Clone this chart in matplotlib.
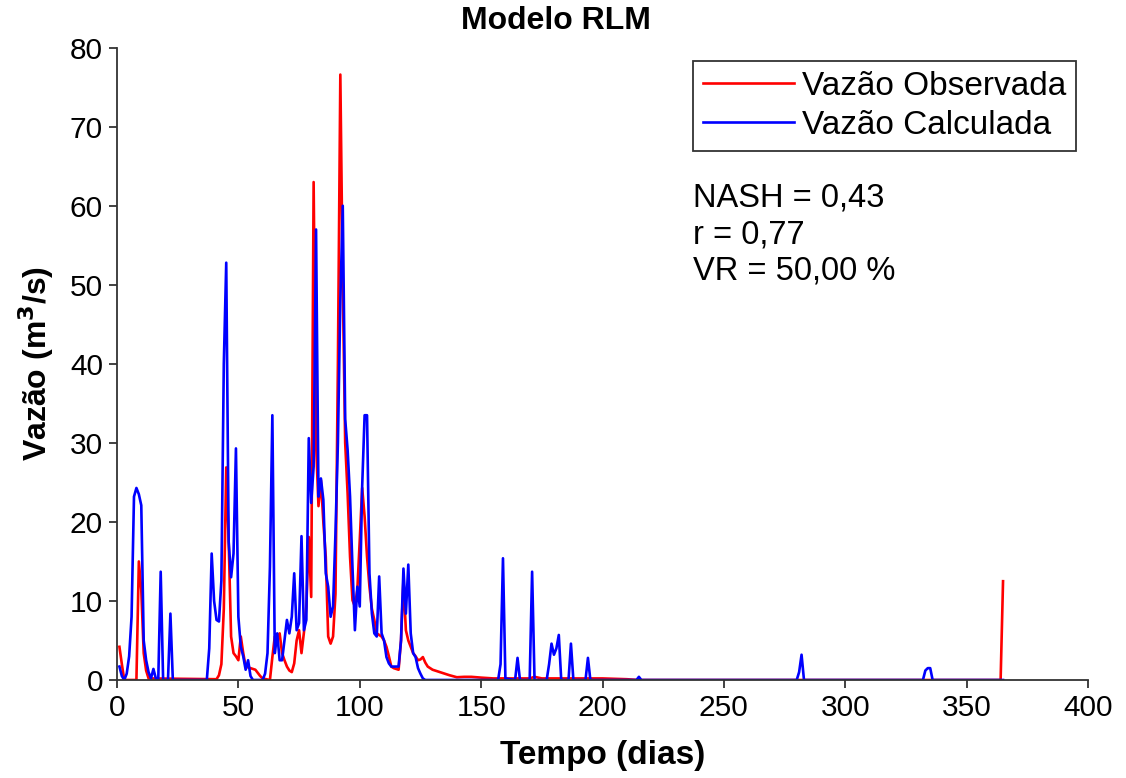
import matplotlib
matplotlib.use("Agg")
import matplotlib.pyplot as plt

plt.rcParams['font.family'] = ['Liberation Sans', 'DejaVu Sans']

# Observed discharge (Vazão Observada): day, value
obs_days = [1, 2, 3, 8, 9, 10, 11, 12, 13, 41, 42, 43, 44, 45, 46, 47, 48, 49, 50,
            51, 52, 53, 55, 57, 59, 60, 63, 64, 65, 66, 67, 68, 69, 70, 71, 72, 73,
            74, 75, 76, 77, 78, 79, 80, 81, 82, 83, 84, 85, 86, 87, 88, 89, 90, 91,
            92, 93, 94, 95, 96, 97, 98, 99, 100, 101, 102, 103, 104, 105, 106, 107,
            108, 109, 110, 111, 112, 113, 114, 115, 116, 117, 118, 119, 120, 121,
            122, 123, 124, 125, 126, 127, 128, 130, 132, 134, 137, 140, 143, 146,
            150, 155, 170, 172, 175, 200, 210, 215, 364, 365]
obs_vals = [4.2, 2.0, 0.0, 0.0, 15.0, 11.4, 3.4, 1.2, 0.2, 0.1, 0.6, 2.0, 9.0, 26.9,
            17.6, 5.5, 3.4, 3.0, 2.5, 5.5, 3.4, 1.7, 1.5, 1.3, 0.5, 0.2, 0.0, 2.9,
            5.5, 5.4, 5.9, 3.4, 2.5, 1.7, 1.2, 1.0, 2.1, 5.0, 6.3, 3.4, 6.0, 9.3,
            18.1, 10.5, 63.0, 30.0, 22.0, 25.3, 20.0, 15.6, 5.5, 4.6, 5.5, 10.9,
            40.0, 76.6, 50.0, 30.0, 23.6, 15.6, 10.1, 9.3, 11.4, 17.7, 24.3, 20.7,
            15.6, 11.8, 9.0, 7.6, 5.9, 5.7, 5.5, 5.0, 4.2, 3.0, 1.7, 1.5, 1.4, 1.3,
            5.0, 12.7, 6.3, 5.0, 4.2, 3.4, 3.0, 2.5, 2.6, 2.9, 2.2, 1.7, 1.3, 1.1,
            0.9, 0.6, 0.35, 0.4, 0.4, 0.3, 0.2, 0.2, 0.4, 0.2, 0.2, 0.1, 0.0, 0.0,
            12.5]

# Calculated discharge (Vazão Calculada): day, value
calc_days = [1, 2, 3, 4, 5, 6, 7, 8, 9, 10, 11, 12, 13, 14, 15, 16, 17, 18, 19,
             21, 22, 23, 37, 38, 39, 40, 41, 42, 43, 44, 45, 46, 47, 48, 49, 50,
             51, 52, 53, 54, 55, 56, 60, 61, 62, 63, 64, 65, 66, 67, 68, 69, 70,
             71, 72, 73, 74, 75, 76, 77, 78, 79, 80, 81, 82, 83, 84, 85, 86, 87,
             88, 89, 90, 91, 92, 93, 94, 95, 96, 97, 98, 99, 100, 101, 102, 103,
             104, 105, 106, 107, 108, 109, 110, 111, 112, 113, 114, 115, 116, 117,
             118, 119, 120, 121, 122, 123, 124, 125, 126, 127, 157, 158, 159, 160,
             164, 165, 166, 170, 171, 172, 177, 178, 179, 180, 181, 182, 183, 186,
             187, 188, 193, 194, 195, 214, 215, 216, 280, 281, 282, 283, 332, 333,
             334, 335, 336, 365]
calc_vals = [1.7, 0.5, 0.0, 0.8, 3.0, 8.0, 23.2, 24.3, 23.5, 22.1, 5.0, 2.5, 1.0,
             0.2, 1.4, 0.2, 0.0, 13.7, 0.0, 0.0, 8.4, 0.0, 0.0, 4.0, 16.0, 10.0,
             7.6, 7.4, 12.6, 40.0, 52.8, 17.5, 13.0, 16.0, 29.3, 8.0, 4.2, 3.0, 1.3,
             2.5, 0.5, 0.0, 0.0, 0.8, 3.4, 14.3, 33.5, 3.4, 5.9, 2.5, 2.5, 5.0, 7.6,
             5.9, 8.0, 13.5, 6.3, 7.2, 18.2, 6.3, 7.6, 30.6, 22.4, 27.0, 57.0, 23.2,
             25.5, 22.8, 13.5, 11.8, 8.0, 9.3, 18.6, 30.0, 48.0, 60.0, 33.0, 29.1,
             23.2, 14.3, 6.3, 11.8, 9.3, 24.5, 33.5, 33.5, 13.5, 8.4, 5.9, 5.5, 13.1,
             5.9, 5.0, 2.9, 2.1, 1.7, 1.7, 1.7, 1.7, 5.0, 14.1, 8.4, 14.6, 5.9, 3.4,
             2.9, 1.5, 0.8, 0.2, 0.0, 0.0, 2.0, 15.4, 0.2, 0.0, 2.8, 0.0, 0.0, 13.7,
             0.0, 0.0, 2.0, 4.6, 3.2, 4.0, 5.7, 0.0, 0.0, 4.6, 0.0, 0.0, 2.8, 0.0,
             0.0, 0.4, 0.0, 0.0, 1.0, 3.2, 0.0, 0.0, 1.2, 1.5, 1.5, 0.0, 0.0]

x_ticks = [0, 50, 100, 150, 200, 250, 300, 350, 400]
y_ticks = [0, 10, 20, 30, 40, 50, 60, 70, 80]

fig = plt.figure(figsize=(11.26, 7.78), dpi=100)
ax = fig.add_axes([117/1126, 1 - 680/778, (1088-117)/1126, (680-47.7)/778])

ax.plot(obs_days, obs_vals, color='#ff0000', lw=1.9, label='Vazão Observada')
ax.plot(calc_days, calc_vals, color='#0000ff', lw=1.9, label='Vazão Calculada')

ax.set_xlim(0, 400)
ax.set_ylim(0, 80)
ax.set_xticks(x_ticks)
ax.set_yticks(y_ticks)
ax.spines['top'].set_visible(False)
ax.spines['right'].set_visible(False)
for s in ('left', 'bottom'):
    ax.spines[s].set_linewidth(1.3)
    ax.spines[s].set_color('#333333')
ax.tick_params(direction='out', length=6, width=1.3, labelsize=21.5, colors='#333333',
               labelcolor='black', pad=4)

ax.set_xlabel('Tempo (dias)', fontsize=24, fontweight='bold', labelpad=13)
ax.set_ylabel('Vazão (m$^\\mathbf{3}$/s)', fontsize=23, fontweight='bold', labelpad=10)
fig.text(556/1126, 1 - 21/778, 'Modelo RLM', fontsize=23, fontweight='bold',
         ha='center', va='center')

leg = ax.legend(loc='upper left', bbox_to_anchor=(0.593, 0.979), borderaxespad=0,
                fontsize=24, handlelength=2.75, handletextpad=0.22, labelspacing=0.24,
                borderpad=0.3, frameon=True, fancybox=False)
leg.get_frame().set_edgecolor('black')
leg.get_frame().set_linewidth(1.3)

ax.text(0.593, 0.787, 'NASH = 0,43\nr = 0,77\nVR = 50,00 %', transform=ax.transAxes,
        fontsize=23.5, va='top', ha='left', linespacing=1.24)

fig.savefig('out.png', dpi=100)
